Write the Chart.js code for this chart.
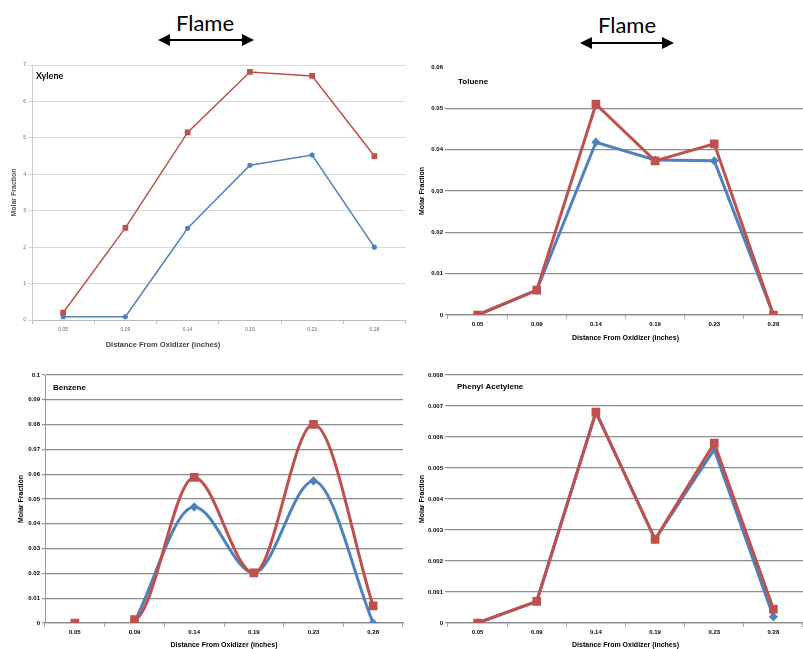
<!DOCTYPE html>
<html>
<head>
<meta charset="utf-8">
<title>Flame profiles</title>
<script src="https://cdn.jsdelivr.net/npm/chart.js@4"></script>
<style>
  html, body { margin: 0; padding: 0; background: #fff; overflow: hidden; }
  #page { position: relative; width: 803px; height: 649px; overflow: hidden; }
  canvas, svg { position: absolute; }
</style>
</head>
<body>
<div id="page">
  <svg width="803" height="55" style="left:0;top:0">
    <text x="205" y="31" text-anchor="middle" font-family="Lato" font-size="22">Flame</text>
    <line x1="168" y1="40" x2="244" y2="40" stroke="#000" stroke-width="2"/>
    <polygon points="158,40 170,34 170,46"/>
    <polygon points="254,40 242,34 242,46"/>
    <text x="627" y="33" text-anchor="middle" font-family="Lato" font-size="22">Flame</text>
    <line x1="590" y1="43" x2="664" y2="43" stroke="#000" stroke-width="2"/>
    <polygon points="580,43 592,37 592,49"/>
    <polygon points="674,43 662,37 662,49"/>
  </svg>
  <canvas id="xylene" width="410" height="300" style="left:0px;top:55px"></canvas>
  <canvas id="toluene" width="400" height="295" style="left:410px;top:55px"></canvas>
  <canvas id="benzene" width="410" height="290" style="left:0px;top:365px"></canvas>
  <canvas id="phenyl" width="400" height="290" style="left:410px;top:365px"></canvas>
</div>
<script>
// data
const distances = ['0.05', '0.09', '0.14', '0.19', '0.23', '0.28'];

const xyleneRed = [0.2, 2.53, 5.15, 6.81, 6.70, 4.50];
const xyleneBlue = [0.09, 0.09, 2.52, 4.25, 4.53, 2.0];

const tolueneRed = [0, 0.006, 0.051, 0.0373, 0.0414, 0];
const tolueneBlue = [0, 0.006, 0.0418, 0.0375, 0.0373, 0];

const benzeneRed = [0, 0.0014, 0.0587, 0.0202, 0.0801, 0.0069];
const benzeneBlue = [null, 0.0004, 0.0468, 0.0202, 0.0573, 0];

const phenylRed = [0, 0.0007, 0.0068, 0.0027, 0.0058, 0.00045];
const phenylBlue = [0, 0.0007, 0.0068, 0.0027, 0.0056, 0.0002];

const RED = '#C0504D';
const BLUE = '#4F81BD';
const TICK_FONT = { family: 'Liberation Sans', size: 6, weight: 'bold' };
const TITLE_FONT = { family: 'Liberation Sans', size: 7, weight: 'bold' };

// name inside the plot, plus an optional free caption
const chartName = {
  id: 'chartName',
  afterDraw(chart, args, opts) {
    const c = chart.ctx;
    const a = chart.chartArea;
    c.save();
    c.font = opts.font;
    c.fillStyle = '#000';
    c.textBaseline = 'middle';
    c.fillText(opts.text, a.left + opts.dx, a.top + opts.dy);
    if (opts.caption) {
      c.font = opts.captionFont;
      c.fillStyle = opts.captionColor;
      c.textAlign = 'center';
      c.fillText(opts.caption, opts.captionX, opts.captionY);
    }
    c.restore();
  }
};

function lineSet(data, color, style, radius, width, extra) {
  return Object.assign({
    data: data,
    borderColor: color,
    backgroundColor: color,
    pointStyle: style,
    pointRadius: radius,
    pointHoverRadius: radius,
    borderWidth: width
  }, extra || {});
}

function baseOptions(name) {
  return {
    responsive: false,
    animation: false,
    plugins: {
      legend: { display: false },
      tooltip: { enabled: false },
      chartName: name
    }
  };
}

// xylene chart start
const xyleneOpts = baseOptions({
  text: 'Xylene', font: 'bold 9px Lato', dx: 4, dy: 11,
  caption: 'Distance From Oxidizer (inches)', captionFont: 'bold 7.5px "Liberation Sans"',
  captionColor: '#444', captionX: 163, captionY: 290
});
xyleneOpts.layout = { padding: { top: 10, right: 0, left: 0, bottom: 0 } };
xyleneOpts.scales = {
  x: {
    offset: true,
    grid: { offset: true, drawOnChartArea: false, tickLength: 4, color: '#bbb' },
    border: { color: '#bbb' },
    ticks: { font: { size: 5 }, color: '#666', padding: 3, maxRotation: 0, autoSkip: false },
    afterFit: s => { s.height = 35; }
  },
  y: {
    min: 0, max: 7,
    ticks: { stepSize: 1, font: { size: 5 }, color: '#666', padding: 2 },
    grid: { color: '#d9d9d9', tickLength: 4 },
    border: { color: '#ccc' },
    title: { display: true, text: 'Molar Fraction', font: { size: 7, weight: 'bold' }, color: '#555', padding: { top: 10 } },
    afterFit: s => { s.width = 32; }
  }
};
new Chart(document.getElementById('xylene'), {
  type: 'line',
  data: {
    labels: distances,
    datasets: [
      lineSet(xyleneRed, RED, 'rect', 3, 1.5),
      lineSet(xyleneBlue, BLUE, 'circle', 1.8, 1.5)
    ]
  },
  options: xyleneOpts,
  plugins: [chartName]
});
// xylene chart end

// shared axes for the three bold charts
function boldScales(max, step, yWidth, xHeight, yTitlePad, xTitlePad, hideTop, showBorder) {
  return {
    x: {
      offset: true,
      grid: { offset: true, drawOnChartArea: false, tickLength: 4, color: '#aaa' },
      border: { color: '#888', width: 1.2 },
      ticks: { font: TICK_FONT, color: '#000', padding: 2, maxRotation: 0, autoSkip: false },
      title: { display: true, text: 'Distance From Oxidizer (inches)', font: TITLE_FONT, color: '#000', padding: { top: 0, bottom: xTitlePad } },
      afterFit: s => { s.height = xHeight; }
    },
    y: {
      min: 0, max: max,
      ticks: {
        stepSize: step, font: TICK_FONT, color: '#000', padding: 2,
        callback: v => String(+v.toFixed(4))
      },
      grid: {
        tickLength: 3,
        lineWidth: 1.2,
        color: c => (hideTop && c.tick && Math.abs(c.tick.value - max) < 1e-9) ? 'rgba(0,0,0,0)' : '#8c8c8c'
      },
      border: { display: showBorder, color: '#999' },
      title: { display: true, text: 'Molar Fraction', font: TITLE_FONT, color: '#000', padding: { top: yTitlePad } },
      afterFit: s => { s.width = yWidth; }
    }
  };
}

// toluene chart start
const tolueneOpts = baseOptions({ text: 'Toluene', font: 'bold 8px "Liberation Sans"', dx: 10, dy: 15 });
tolueneOpts.layout = { padding: { top: 12, right: 0, left: 0, bottom: 0 } };
tolueneOpts.scales = boldScales(0.06, 0.01, 38, 35, 8, 8, true, false);
new Chart(document.getElementById('toluene'), {
  type: 'line',
  data: {
    labels: distances,
    datasets: [
      lineSet(tolueneRed, RED, 'rect', 4, 3),
      lineSet(tolueneBlue, BLUE, 'rectRot', 2.5, 3)
    ]
  },
  options: tolueneOpts,
  plugins: [chartName]
});
// toluene chart end

// benzene chart start
const benzeneOpts = baseOptions({ text: 'Benzene', font: 'bold 8px "Liberation Sans"', dx: 8, dy: 13 });
benzeneOpts.layout = { padding: { top: 10, right: 5, left: 0, bottom: 0 } };
benzeneOpts.scales = boldScales(0.1, 0.01, 45, 32, 17, 6, false, true);
new Chart(document.getElementById('benzene'), {
  type: 'line',
  data: {
    labels: distances,
    datasets: [
      lineSet(benzeneRed, RED, 'rect', 4, 3, {
        cubicInterpolationMode: 'monotone',
        segment: { borderColor: c => c.p0DataIndex === 0 ? 'rgba(0,0,0,0)' : undefined }
      }),
      lineSet(benzeneBlue, BLUE, 'rectRot', 2.5, 3, { cubicInterpolationMode: 'monotone' })
    ]
  },
  options: benzeneOpts,
  plugins: [chartName]
});
// benzene chart end

// phenyl acetylene chart start
const phenylOpts = baseOptions({ text: 'Phenyl Acetylene', font: 'bold 8px "Liberation Sans"', dx: 9, dy: 12 });
phenylOpts.layout = { padding: { top: 10, right: 0, left: 0, bottom: 0 } };
phenylOpts.scales = boldScales(0.008, 0.001, 38, 32, 8, 6, false, false);
new Chart(document.getElementById('phenyl'), {
  type: 'line',
  data: {
    labels: distances,
    datasets: [
      lineSet(phenylRed, RED, 'rect', 4, 3),
      lineSet(phenylBlue, BLUE, 'rectRot', 2.5, 3)
    ]
  },
  options: phenylOpts,
  plugins: [chartName]
});
// phenyl acetylene chart end
</script>
</body>
</html>
